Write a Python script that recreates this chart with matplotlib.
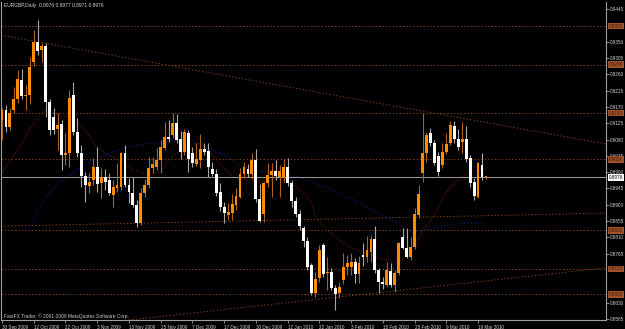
import matplotlib
matplotlib.use("Agg")
import matplotlib.pyplot as plt
import matplotlib.transforms as mtransforms
import numpy as np

plt.rcParams['font.family'] = ['Liberation Sans', 'DejaVu Sans']

# ---------------- data (EURGBP daily) ----------------
opens = [0.9134, 0.9161, 0.9115, 0.9161, 0.9192, 0.9244, 0.9200, 0.9203, 0.9294, 0.9349,
         0.9327, 0.9338, 0.9184, 0.9142, 0.9109, 0.9123, 0.9037, 0.9043, 0.9203, 0.9101,
         0.9043, 0.8979, 0.8952, 0.8968, 0.9004, 0.8960, 0.8977, 0.8968, 0.8927, 0.8946,
         0.8949, 0.9043, 0.8955, 0.8933, 0.8899, 0.8850, 0.8933, 0.8955, 0.9001, 0.9004,
         0.9024, 0.9057, 0.9087, 0.9092, 0.9126, 0.9081, 0.9046, 0.9098, 0.9043, 0.9012,
         0.9024, 0.9054, 0.9048, 0.8999, 0.8985, 0.8935, 0.8894, 0.8872, 0.8877, 0.8899,
         0.8922, 0.8985, 0.8999, 0.8985, 0.9024, 0.8916, 0.8875, 0.8960, 0.8982, 0.8993,
         0.8977, 0.8977, 0.9004, 0.8960, 0.8910, 0.8875, 0.8836, 0.8800, 0.8734, 0.8657,
         0.8698, 0.8789, 0.8712, 0.8715, 0.8670, 0.8657, 0.8693, 0.8728, 0.8728, 0.8742,
         0.8709, 0.8762, 0.8756, 0.8770, 0.8806, 0.8720, 0.8687, 0.8679, 0.8717, 0.8679,
         0.8712, 0.8811, 0.8781, 0.8756, 0.8784, 0.8872, 0.8988, 0.9043, 0.9098, 0.9070,
         0.9035, 0.9010, 0.9046, 0.9070, 0.9117, 0.9081, 0.9073, 0.9081, 0.9029, 0.8963,
         0.8922, 0.9010, 0.8976]
highs = [0.9167, 0.9175, 0.9167, 0.9225, 0.9272, 0.9275, 0.9230, 0.9308, 0.9382, 0.9410,
         0.9346, 0.9346, 0.9192, 0.9167, 0.9153, 0.9134, 0.9098, 0.9217, 0.9239, 0.9139,
         0.9065, 0.8990, 0.8988, 0.9029, 0.9059, 0.9001, 0.8999, 0.8988, 0.8968, 0.9015,
         0.9046, 0.9065, 0.8974, 0.8977, 0.8913, 0.8946, 0.8971, 0.9032, 0.9032, 0.9057,
         0.9079, 0.9128, 0.9134, 0.9153, 0.9150, 0.9103, 0.9109, 0.9106, 0.9059, 0.9070,
         0.9095, 0.9070, 0.9070, 0.9018, 0.8999, 0.8960, 0.8908, 0.8905, 0.8930, 0.8946,
         0.9001, 0.9018, 0.9012, 0.9043, 0.9054, 0.8957, 0.8963, 0.9015, 0.9015, 0.9024,
         0.9010, 0.9026, 0.9029, 0.8968, 0.8922, 0.8886, 0.8842, 0.8811, 0.8739, 0.8715,
         0.8789, 0.8795, 0.8756, 0.8726, 0.8679, 0.8687, 0.8767, 0.8762, 0.8767, 0.8753,
         0.8759, 0.8795, 0.8814, 0.8817, 0.8842, 0.8726, 0.8701, 0.8742, 0.8739, 0.8720,
         0.8797, 0.8836, 0.8836, 0.8811, 0.8891, 0.8955, 0.9153, 0.9101, 0.9112, 0.9079,
         0.9046, 0.9070, 0.9098, 0.9131, 0.9131, 0.9109, 0.9128, 0.9117, 0.9037, 0.8974,
         0.9018, 0.9043, 0.8977]
lows = [0.9079, 0.9101, 0.9106, 0.9153, 0.9181, 0.9192, 0.9161, 0.9178, 0.9283, 0.9313,
        0.9294, 0.9142, 0.9092, 0.9095, 0.9051, 0.8996, 0.9010, 0.9004, 0.9092, 0.9032,
        0.8949, 0.8908, 0.8933, 0.8955, 0.8935, 0.8919, 0.8941, 0.8927, 0.8894, 0.8935,
        0.8941, 0.8949, 0.8905, 0.8894, 0.8839, 0.8844, 0.8922, 0.8946, 0.8988, 0.8996,
        0.8988, 0.9051, 0.9073, 0.9084, 0.9070, 0.9026, 0.9037, 0.8990, 0.9004, 0.9007,
        0.9001, 0.9037, 0.8977, 0.8979, 0.8924, 0.8883, 0.8850, 0.8858, 0.8858, 0.8886,
        0.8919, 0.8974, 0.8977, 0.8971, 0.8908, 0.8853, 0.8853, 0.8949, 0.8922, 0.8968,
        0.8922, 0.8963, 0.8952, 0.8894, 0.8866, 0.8830, 0.8784, 0.8720, 0.8651, 0.8646,
        0.8687, 0.8701, 0.8665, 0.8665, 0.8610, 0.8643, 0.8682, 0.8706, 0.8706, 0.8684,
        0.8684, 0.8731, 0.8742, 0.8742, 0.8712, 0.8657, 0.8668, 0.8673, 0.8673, 0.8659,
        0.8706, 0.8778, 0.8753, 0.8748, 0.8778, 0.8864, 0.8963, 0.9018, 0.9062, 0.9010,
        0.8979, 0.9001, 0.9040, 0.9065, 0.9070, 0.9051, 0.9043, 0.9018, 0.8949, 0.8913,
        0.8919, 0.8968, 0.8971]
closes = [0.9161, 0.9115, 0.9153, 0.9192, 0.9247, 0.9200, 0.9203, 0.9280, 0.9349, 0.9324,
          0.9338, 0.9184, 0.9106, 0.9106, 0.9120, 0.9037, 0.9043, 0.9195, 0.9101, 0.9043,
          0.8979, 0.8955, 0.8963, 0.9004, 0.8957, 0.8977, 0.8963, 0.8933, 0.8949, 0.8955,
          0.9043, 0.8955, 0.8935, 0.8899, 0.8850, 0.8933, 0.8955, 0.9001, 0.9012, 0.9024,
          0.9059, 0.9087, 0.9081, 0.9126, 0.9079, 0.9046, 0.9101, 0.9026, 0.9015, 0.9026,
          0.9054, 0.9046, 0.9004, 0.8985, 0.8933, 0.8894, 0.8877, 0.8880, 0.8902, 0.8924,
          0.8985, 0.9004, 0.8985, 0.9024, 0.8916, 0.8855, 0.8960, 0.8982, 0.8993, 0.8979,
          0.8993, 0.9004, 0.8960, 0.8910, 0.8875, 0.8842, 0.8800, 0.8728, 0.8657, 0.8695,
          0.8775, 0.8709, 0.8715, 0.8670, 0.8654, 0.8673, 0.8728, 0.8739, 0.8742, 0.8709,
          0.8739, 0.8756, 0.8775, 0.8806, 0.8720, 0.8687, 0.8682, 0.8720, 0.8679, 0.8712,
          0.8795, 0.8781, 0.8756, 0.8784, 0.8875, 0.8930, 0.9043, 0.9092, 0.9070, 0.9015,
          0.8990, 0.9046, 0.9068, 0.9120, 0.9081, 0.9059, 0.9081, 0.9026, 0.8960, 0.8924,
          0.9015, 0.8977, 0.8976]

date_labels = ['30 Sep 2009', '12 Oct 2009', '22 Oct 2009', '3 Nov 2009', '13 Nov 2009',
               '25 Nov 2009', '7 Dec 2009', '17 Dec 2009', '30 Dec 2009', '12 Jan 2010',
               '22 Jan 2010', '3 Feb 2010', '15 Feb 2010', '25 Feb 2010', '9 Mar 2010',
               '19 Mar 2010']
bars_per_label = 8

price_ticks = [0.9440, 0.9350, 0.9305, 0.9260, 0.9215, 0.9170, 0.9125, 0.9080, 0.9035,
               0.8990, 0.8945, 0.8900, 0.8855, 0.8810, 0.8765, 0.8630, 0.8585]

# moving averages (bar index, price)
ma_red_idx = [0, 5, 8, 11, 13, 16, 20, 23, 26, 30, 33, 37, 40, 42, 45, 47, 50, 52, 54, 57,
              59, 62, 65, 68, 71, 73, 76, 78, 79, 82, 85, 88, 92, 95, 99, 100, 104, 106,
              109, 111, 113, 116, 118, 122]
ma_red_val = [0.8988, 0.9070, 0.9126, 0.9164, 0.9153, 0.9142, 0.9120, 0.9070, 0.9043, 0.9018,
              0.8996, 0.8982, 0.8990, 0.9024, 0.9051, 0.9065, 0.9070, 0.9051, 0.9024, 0.8988,
              0.8974, 0.8968, 0.8963, 0.8968, 0.8977, 0.8960, 0.8933, 0.8905, 0.8866, 0.8830,
              0.8803, 0.8781, 0.8767, 0.8753, 0.8742, 0.8742, 0.8775, 0.8830, 0.8872, 0.8913,
              0.8949, 0.8977, 0.8990, 0.9001]
ma_blue_idx = [7, 9, 12, 15, 19, 21, 25, 28, 31, 35, 38, 41, 44, 47, 50, 53, 57, 60, 63, 67,
               71, 75, 80, 85, 90, 95, 100, 102, 105, 109, 113, 117, 122]
ma_blue_val = [0.8836, 0.8886, 0.8933, 0.8968, 0.8996, 0.9015, 0.9032, 0.9046, 0.9057, 0.9065,
               0.9070, 0.9076, 0.9079, 0.9079, 0.9065, 0.9051, 0.9032, 0.9010, 0.8996, 0.8990,
               0.8982, 0.8977, 0.8955, 0.8933, 0.8905, 0.8877, 0.8850, 0.8830, 0.8825, 0.8836,
               0.8844, 0.8850, 0.8850]

# horizontal levels and trend lines
h_levels = [0.9393, 0.9286, 0.9153, 0.9026, 0.8830, 0.8723, 0.8653]
trend_desc = [(-0.5, 0.9368), (152.0, 0.9068)]
trend_asc1 = [(-0.5, 0.8841), (152.0, 0.8877)]
trend_asc2 = [(31.8, 0.8582), (152.0, 0.8726)]
last_price = 0.8976
title = "EURGBP,Daily  0.8976 0.8977 0.8971 0.8976"
copyright_txt = "FastFX Trader, \u00a9 2001-2008 MetaQuotes Software Corp."

# ---------------- figure ----------------
W, H = 625, 329
fig = plt.figure(figsize=(W / 100, H / 100), dpi=100, facecolor='black')
ax = fig.add_axes([1 / W, 9 / H, 605 / W, 318 / H])
ax.set_facecolor('black')

O = np.array(opens); Hh = np.array(highs); L = np.array(lows); C = np.array(closes)
x = np.arange(len(C))
up = C >= O
bottom = np.minimum(O, C)
height = np.maximum(np.abs(C - O), 0.00028)

ax.vlines(x[up], L[up], Hh[up], color='#B0601A', lw=0.8, zorder=3)
ax.vlines(x[~up], L[~up], Hh[~up], color='#A8A8A8', lw=0.8, zorder=3)
ax.bar(x[up], height[up], bottom=bottom[up], width=0.72, color='#FF8C00', lw=0, zorder=4)
ax.bar(x[~up], height[~up], bottom=bottom[~up], width=0.72, color='#FFFFFF', lw=0, zorder=4)

line_col = '#7A3C12'
for lv in h_levels:
    ax.axhline(lv, color=line_col, lw=0.7, ls=(0, (1.5, 2)), zorder=1)
for tl in (trend_desc, trend_asc1, trend_asc2):
    ax.axline(tl[0], tl[1], color=line_col, lw=0.7, ls=(0, (1.5, 2)), zorder=1)

ax.plot(ma_red_idx, ma_red_val, color='#801810', lw=0.7, ls=(0, (1, 1.5)), zorder=2)
ax.plot(ma_blue_idx, ma_blue_val, color='#1E1E90', lw=0.7, ls=(0, (1, 1.5)), zorder=2)
ax.axhline(last_price, color='#9A9A9A', lw=0.7, zorder=2)

ax.set_xlim(-0.25, 152.25)
ax.set_ylim(0.85822, 0.94593)

ax.spines['top'].set_visible(False)
for side in ('left', 'right', 'bottom'):
    ax.spines[side].set_color('#A0A0A0')
    ax.spines[side].set_linewidth(0.8)

# price axis on the right
ax.yaxis.tick_right()
ax.set_yticks(price_ticks)
ax.set_yticklabels([f'{p:.4f}' for p in price_ticks])
ax.tick_params(axis='y', length=2.0, width=0.6, color='#A0A0A0', labelsize=3.3,
               labelcolor='#D0D0D0', pad=1.0)

# date axis
ax.set_xticks([bars_per_label * k for k in range(len(date_labels))])
ax.set_xticklabels(date_labels, ha='left')
ax.tick_params(axis='x', length=2.5, width=0.6, color='#A0A0A0', labelsize=3.3,
               labelcolor='#D0D0D0', pad=1.0)

# highlighted level labels on the price axis
trans = mtransforms.blended_transform_factory(ax.transAxes, ax.transData)
for lv in h_levels:
    ax.text(1.0 + 3 / 605, lv, f'{lv:.4f}', transform=trans, ha='left', va='center',
            fontsize=3.3, color='#3A1A05', zorder=6, clip_on=False,
            bbox=dict(boxstyle='square,pad=0.2', fc='#A0522D', ec='none'))
ax.text(1.0 + 3 / 605, last_price, f'{last_price:.4f}', transform=trans, ha='left',
        va='center', fontsize=3.3, color='black', zorder=6, clip_on=False,
        bbox=dict(boxstyle='square,pad=0.2', fc='white', ec='none'))

fig.text(4 / W, 1 - 5 / H, title, color='#D8D8D8', fontsize=3.5, ha='left', va='center')
fig.text(4 / W, 1 - 316 / H, copyright_txt, color='#C8C8C8', fontsize=3.5, ha='left',
         va='center')

fig.savefig('out.png', dpi=100, facecolor='black')
